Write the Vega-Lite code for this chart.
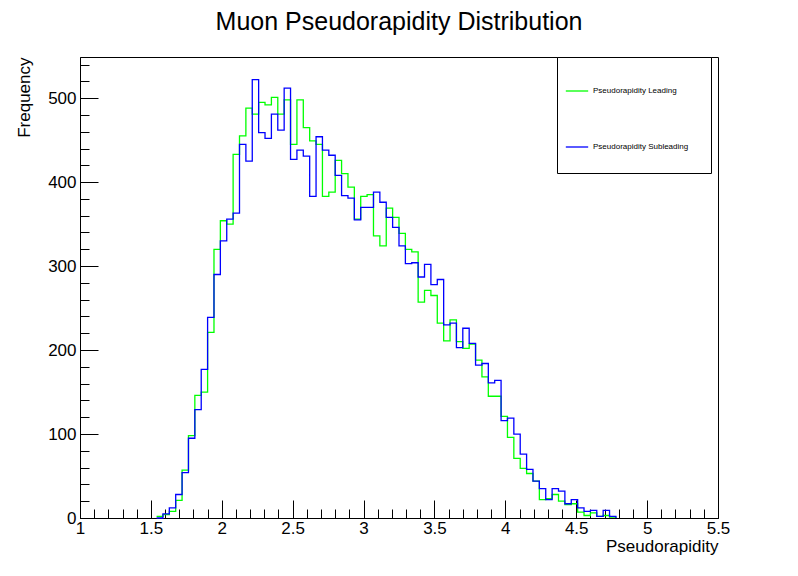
{
  "$schema": "https://vega.github.io/schema/vega-lite/v6.json",
  "autosize": "none",
  "width": 638,
  "height": 461,
  "padding": {"left": 80, "top": 57, "right": 80, "bottom": 58},
  "background": "white",
  "title": {"text": "Muon Pseudorapidity Distribution", "font": "Liberation Sans", "fontSize": 25, "fontWeight": "normal", "offset": 22, "color": "black"},
  "datasets": {
    "lead": [
      [1.54,2],[1.585,4],[1.63,8],[1.675,21],[1.72,57],[1.765,98],[1.81,146],[1.855,150],[1.9,221],[1.945,320],
      [1.99,354],[2.035,350],[2.08,433],[2.125,455],[2.17,488],[2.215,481],[2.26,495],[2.305,492],[2.35,501],[2.395,481],
      [2.44,498],[2.485,445],[2.53,498],[2.575,465],[2.62,449],[2.665,445],[2.71,383],[2.755,388],[2.8,426],[2.845,410],
      [2.89,394],[2.935,356],[2.98,383],[3.025,385],[3.07,336],[3.115,324],[3.16,369],[3.205,358],[3.25,339],[3.295,320],
      [3.34,317],[3.385,257],[3.43,271],[3.475,265],[3.52,232],[3.565,211],[3.61,236],[3.655,210],[3.7,202],[3.745,207],
      [3.79,188],[3.835,168],[3.88,145],[3.925,145],[3.97,121],[4.015,96],[4.06,71],[4.105,59],[4.15,53],[4.195,44],
      [4.24,22],[4.285,23],[4.33,28],[4.375,20],[4.42,16],[4.465,17],[4.51,7],[4.555,3],[4.6,6],[4.645,2],
      [4.69,3],[4.735,1],[4.78,0]
    ],
    "sub": [
      [1.54,0],[1.585,5],[1.63,12],[1.675,28],[1.72,54],[1.765,95],[1.81,129],[1.855,177],[1.9,239],[1.945,290],
      [1.99,330],[2.035,356],[2.08,363],[2.125,445],[2.17,425],[2.215,522],[2.26,459],[2.305,452],[2.35,481],[2.395,462],
      [2.44,512],[2.485,427],[2.53,438],[2.575,431],[2.62,383],[2.665,454],[2.71,438],[2.755,432],[2.8,408],[2.845,384],
      [2.89,381],[2.935,355],[2.98,370],[3.025,370],[3.07,388],[3.115,376],[3.16,358],[3.205,346],[3.25,324],[3.295,303],
      [3.34,304],[3.385,287],[3.43,302],[3.475,278],[3.52,284],[3.565,230],[3.61,232],[3.655,203],[3.7,226],[3.745,208],
      [3.79,182],[3.835,184],[3.88,161],[3.925,164],[3.97,116],[4.015,119],[4.06,100],[4.105,76],[4.15,58],[4.195,44],
      [4.24,35],[4.285,22],[4.33,35],[4.375,32],[4.42,17],[4.465,22],[4.51,12],[4.555,8],[4.6,9],[4.645,2],
      [4.69,9],[4.735,2],[4.78,0]
    ]
  },
  "layer": [
    {
      "data": {"name": "lead"},
      "transform": [
        {"calculate": "datum[0]", "as": "eta"},
        {"calculate": "datum[1]", "as": "count"},
        {"calculate": "'Pseudorapidity Leading'", "as": "series"}
      ],
      "mark": {"type": "line", "interpolate": "step-after", "strokeWidth": 1.3},
      "encoding": {
        "x": {"field": "eta", "type": "quantitative"},
        "y": {"field": "count", "type": "quantitative"},
        "color": {"field": "series", "type": "nominal"}
      }
    },
    {
      "data": {"name": "sub"},
      "transform": [
        {"calculate": "datum[0]", "as": "eta"},
        {"calculate": "datum[1]", "as": "count"},
        {"calculate": "'Pseudorapidity Subleading'", "as": "series"}
      ],
      "mark": {"type": "line", "interpolate": "step-after", "strokeWidth": 1.3},
      "encoding": {
        "x": {"field": "eta", "type": "quantitative"},
        "y": {"field": "count", "type": "quantitative"},
        "color": {"field": "series", "type": "nominal"}
      }
    }
  ],
  "encoding": {
    "x": {
      "field": "eta", "type": "quantitative",
      "scale": {"domain": [1, 5.5], "nice": false, "zero": false},
      "axis": {
        "title": "Pseudorapidity", "titleAnchor": "end", "titleFontSize": 17, "titleFontWeight": "normal",
        "titleFont": "Liberation Sans", "titlePadding": 2,
        "values": [1,1.1,1.2,1.3,1.4,1.5,1.6,1.7,1.8,1.9,2,2.1,2.2,2.3,2.4,2.5,2.6,2.7,2.8,2.9,3,3.1,3.2,3.3,3.4,3.5,3.6,3.7,3.8,3.9,4,4.1,4.2,4.3,4.4,4.5,4.6,4.7,4.8,4.9,5,5.1,5.2,5.3,5.4,5.5],
        "format": "~g",
        "labelExpr": "abs(datum.value*2 - round(datum.value*2)) < 0.001 ? datum.label : ''",
        "tickSize": {"condition": {"test": "abs(datum.value*2 - round(datum.value*2)) < 0.001", "value": -18}, "value": -9},
        "grid": false, "labelFontSize": 17, "labelFont": "Liberation Sans", "labelPadding": 20,
        "domainColor": "black", "tickColor": "black", "labelColor": "black", "titleColor": "black", "labelFlush": false
      }
    },
    "y": {
      "field": "count", "type": "quantitative",
      "scale": {"domain": [0, 549], "nice": false},
      "axis": {
        "title": "Frequency", "titleAnchor": "end", "titleFontSize": 17, "titleFontWeight": "normal",
        "titleFont": "Liberation Sans", "titlePadding": 14,
        "values": [0,20,40,60,80,100,120,140,160,180,200,220,240,260,280,300,320,340,360,380,400,420,440,460,480,500,520,540],
        "labelExpr": "datum.value % 100 == 0 ? datum.label : ''",
        "tickSize": {"condition": {"test": "datum.value % 100 == 0", "value": -18}, "value": -9},
        "grid": false, "labelFontSize": 17, "labelFont": "Liberation Sans", "labelPadding": 22,
        "domainColor": "black", "tickColor": "black", "labelColor": "black", "titleColor": "black"
      }
    },
    "color": {
      "field": "series", "type": "nominal",
      "scale": {"domain": ["Pseudorapidity Leading", "Pseudorapidity Subleading"], "range": ["#00ff00", "#0000ff"]},
      "legend": {
        "title": null, "orient": "none", "legendX": 477, "legendY": 0,
        "fillColor": "white", "strokeColor": "black", "padding": 22,
        "symbolType": "stroke", "symbolStrokeWidth": 1.3, "symbolSize": 500,
        "labelFontSize": 8, "labelFont": "Liberation Sans", "labelColor": "black",
        "rowPadding": 40, "labelLimit": 200, "symbolOffset": -14
      }
    }
  },
  "config": {"view": {"stroke": "black", "strokeWidth": 1}}
}
